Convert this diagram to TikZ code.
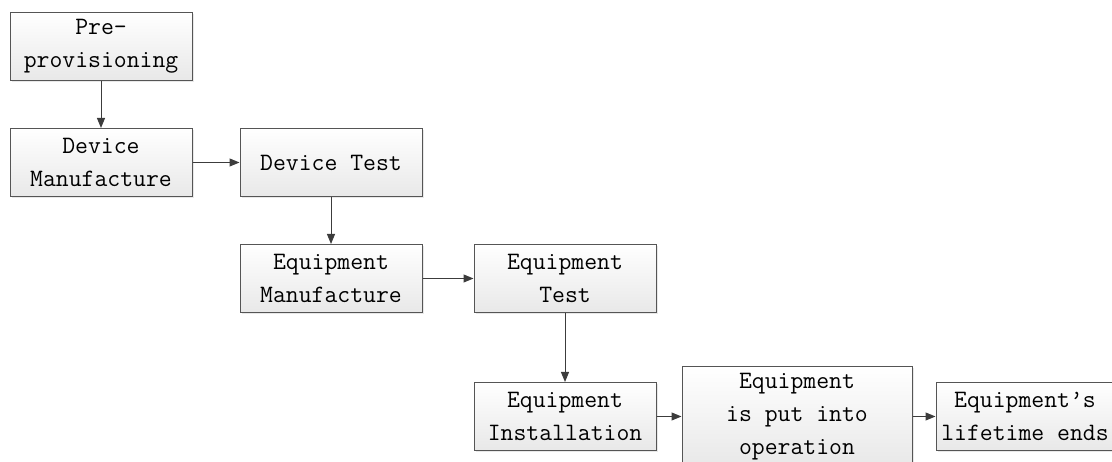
\documentclass[tikz,border=0pt]{standalone}
\usepackage{tikz}
\usetikzlibrary{arrows.meta,positioning,shadows}
\definecolor{stageline}{RGB}{85,85,85}
\definecolor{stagefill}{RGB}{232,232,232}
\definecolor{flowcolor}{RGB}{60,60,60}

\begin{document}
\begin{tikzpicture}[
    x=1pt, y=1pt,
    stage/.style={draw=stageline, line width=1pt, top color=white, bottom color=stagefill,
      drop shadow={opacity=0.18, shadow xshift=2pt, shadow yshift=-2pt},
      minimum width=182pt, minimum height=68pt, inner sep=0pt, align=center,
      font=\ttfamily\fontsize{25}{33}\selectfont},
    flow/.style={->, draw=flowcolor, line width=1pt},
    >={Triangle[length=10pt,width=8pt]}
  ]
    \useasboundingbox (0,0) rectangle (1112,462);
    \node[stage] (pre) at (101,415.5) {Pre-\\provisioning};
    \node[stage, below=47pt of pre] (devman) {Device\\Manufacture};
    \node[stage, right=47pt of devman] (devtest) {Device Test};
    \node[stage, below=47pt of devtest] (eqman) {Equipment\\Manufacture};
    \node[stage, right=51pt of eqman] (eqtest) {Equipment\\Test};
    \node[stage, below=69pt of eqtest] (eqinst) {Equipment\\Installation};
    \node[stage, right=25pt of eqinst, minimum width=230pt, minimum height=100pt] (eqop) {Equipment\\is put into\\operation};
    \node[stage, right=23pt of eqop, minimum width=178pt] (eqend) {Equipment’s\\lifetime ends};
    \draw[flow] (pre) -- (devman);
    \draw[flow] (devman) -- (devtest);
    \draw[flow] (devtest) -- (eqman);
    \draw[flow] (eqman) -- (eqtest);
    \draw[flow] (eqtest) -- (eqinst);
    \draw[flow] (eqinst) -- (eqop);
    \draw[flow] (eqop) -- (eqend);
  \end{tikzpicture}
\end{document}
